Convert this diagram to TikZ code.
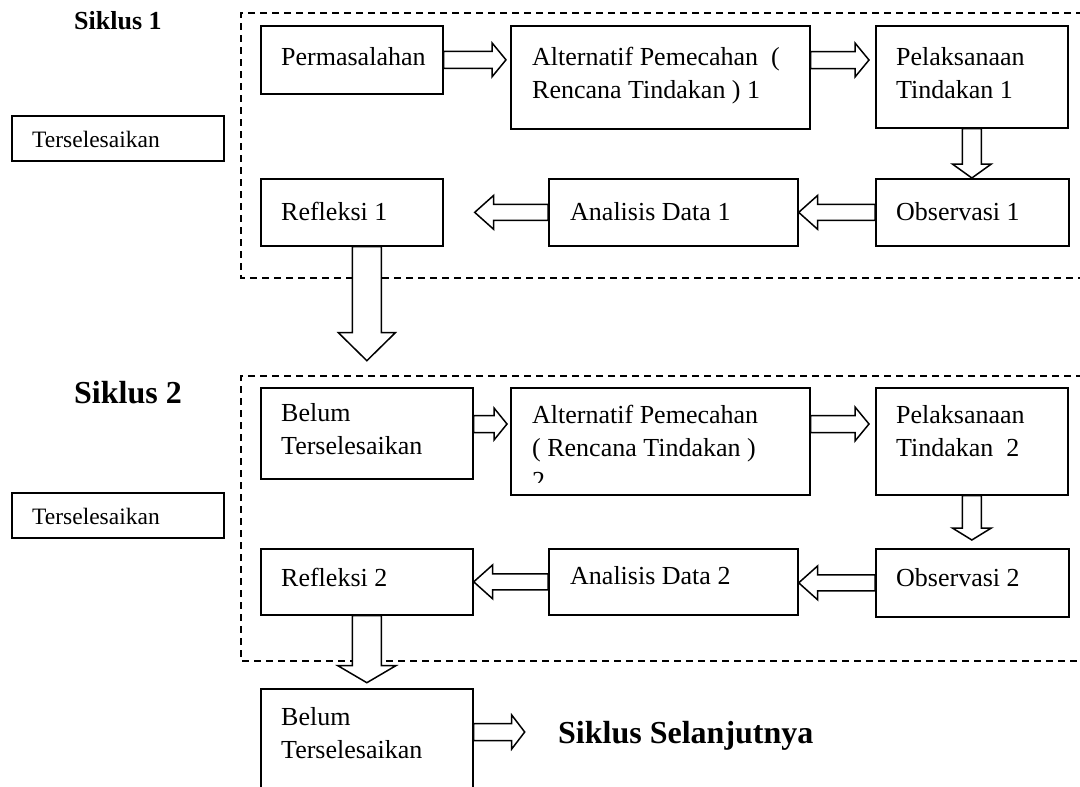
\documentclass[tikz,border=0pt]{standalone}
\usepackage{fontspec}
\setmainfont{Liberation Serif}
\usetikzlibrary{calc}
\newcommand\mainsz{\fontsize{26}{33}\selectfont}
\newcommand\smallsz{\fontsize{23.5}{28}\selectfont}
\newcommand\ml[1]{\parbox[t]{320pt}{\raggedright #1}}
% right-pointing block arrow: start, target (x of tip), shaft half, head half, head length
\newcommand\arrR[5]{%
  \coordinate (s) at (#1); \coordinate (t) at (#1 -| #2);
  \draw[blk] ($(s)+(0,-#3)$) -- ($(t)+(-#5,-#3)$) -- ($(t)+(-#5,-#4)$) -- (t)
    -- ($(t)+(-#5,#4)$) -- ($(t)+(-#5,#3)$) -- ($(s)+(0,#3)$) -- cycle;}
\newcommand\arrL[5]{%
  \coordinate (s) at (#1); \coordinate (t) at (#1 -| #2);
  \draw[blk] ($(s)+(0,-#3)$) -- ($(t)+(#5,-#3)$) -- ($(t)+(#5,-#4)$) -- (t)
    -- ($(t)+(#5,#4)$) -- ($(t)+(#5,#3)$) -- ($(s)+(0,#3)$) -- cycle;}
\newcommand\arrD[5]{%
  \coordinate (s) at (#1); \coordinate (t) at (#1 |- #2);
  \draw[blk] ($(s)+(-#3,0)$) -- ($(t)+(-#3,-#5)$) -- ($(t)+(-#4,-#5)$) -- (t)
    -- ($(t)+(#4,-#5)$) -- ($(t)+(#3,-#5)$) -- ($(s)+(#3,0)$) -- cycle;}
\begin{document}
\begin{tikzpicture}[x=1pt,y=-1pt,
  box/.style={draw,line width=1.7pt,rectangle,inner sep=0pt,anchor=north west},
  txt/.style={inner sep=0pt,anchor=base west,font=\mainsz},
  stxt/.style={inner sep=0pt,anchor=base west,font=\smallsz},
  blk/.style={draw,fill=white,line width=1.5pt,line join=miter},
  cyc/.style={draw,line width=1.4pt,dash pattern=on 7pt off 5pt}]
\useasboundingbox (0,0) rectangle (1080,787);
\clip (0,0) rectangle (1080,787);

% ---------- Siklus 1 ----------
\draw[cyc] (1095,13) -- (241,13) -- (241,278) -- (1095,278);
\node[inner sep=0pt,anchor=base west,font=\fontsize{26}{30}\selectfont\bfseries] (sik1) at (74,29) {Siklus 1};

\node[box,minimum width=212pt,minimum height=45pt] (ters1) at (11,115) {};
\node[stxt] (ters1t) at (32,147) {Terselesaikan};

\node[box,minimum width=182pt,minimum height=68pt] (perm) at (260,25) {};
\node[txt] (permt) at (281,65) {Permasalahan};

\node[box,minimum width=299pt,minimum height=103pt] (alt1) at (510,25) {};
\node[txt] (alt1t) at (532,65) {\ml{Alternatif Pemecahan\ \ (\\Rencana Tindakan ) 1}};

\node[box,minimum width=192pt,minimum height=102pt] (pel1) at (875,25) {};
\node[txt] (pel1t) at (896,65) {\ml{Pelaksanaan\\Tindakan 1}};

\node[box,minimum width=193pt,minimum height=67pt] (obs1) at (875,178) {};
\node[txt] (obs1t) at (896,220) {Observasi 1};

\node[box,minimum width=249pt,minimum height=67pt] (ana1) at (548,178) {};
\node[txt] (ana1t) at (570,220) {Analisis Data 1};

\node[box,minimum width=182pt,minimum height=67pt] (ref1) at (260,178) {};
\node[txt] (ref1t) at (281,220) {Refleksi 1};

\coordinate (a1s) at ($(alt1.north east)+(0,35)$);
\coordinate (p1in) at ($(pel1.west)+(-6,0)$);
\coordinate (a1in) at ($(alt1.west)+(-4,0)$);
\coordinate (r1in) at ($(ref1.east)+(31,0)$);
\coordinate (r1s) at ($(ref1.south)+(15,0)$);
\coordinate (r1tip) at ($(ref1.south)+(15,114)$);

\arrR{perm.east}{a1in}{8.5}{17}{14}
\arrR{a1s}{p1in}{8.5}{17}{14}
\arrD{pel1.south}{obs1.north}{9.5}{19.5}{14}
\arrL{obs1.west}{ana1.east}{8}{17}{19}
\arrL{ana1.west}{r1in}{8}{17}{19}

% ---------- Siklus 2 ----------
\draw[cyc] (1095,376) -- (241,376) -- (241,661) -- (1095,661);
\node[inner sep=0pt,anchor=base west,font=\fontsize{32}{36}\selectfont\bfseries] (sik2) at (74,403) {Siklus 2};

\node[box,minimum width=212pt,minimum height=45pt] (ters2) at (11,492) {};
\node[stxt] (ters2t) at (32,524) {Terselesaikan};

\node[box,minimum width=212pt,minimum height=91pt] (bel2) at (260,387) {};
\node[txt] (bel2t) at (281,421) {\ml{Belum\\Terselesaikan}};

\node[box,minimum width=299pt,minimum height=107pt] (alt2) at (510,387) {};
\begin{scope}
  \clip (512,389) rectangle (807,482);
  \node[txt] (alt2t) at (532,423) {\ml{Alternatif Pemecahan\\( Rencana Tindakan )\\2}};
\end{scope}

\node[box,minimum width=192pt,minimum height=107pt] (pel2) at (875,387) {};
\node[txt] (pel2t) at (896,423) {\ml{Pelaksanaan\\Tindakan\ \ 2}};

\node[box,minimum width=193pt,minimum height=68pt] (obs2) at (875,548) {};
\node[txt] (obs2t) at (896,586) {Observasi 2};

\node[box,minimum width=249pt,minimum height=66pt] (ana2) at (548,548) {};
\node[txt] (ana2t) at (570,584) {Analisis Data 2};

\node[box,minimum width=212pt,minimum height=66pt] (ref2) at (260,548) {};
\node[txt] (ref2t) at (281,586) {Refleksi 2};

\coordinate (b2s) at ($(bel2.north east)+(0,37)$);
\coordinate (a2in) at ($(alt2.west)+(-3,0)$);
\coordinate (a2s) at ($(alt2.north east)+(0,37)$);
\coordinate (p2in) at ($(pel2.west)+(-6,0)$);
\coordinate (o2in) at ($(obs2.north)+(0,-8)$);
\coordinate (r2tip) at ($(ref2.south)+(0,67)$);

\arrR{b2s}{a2in}{8.5}{16}{13}
\arrR{a2s}{p2in}{8.5}{17}{14}
\arrD{pel2.south}{o2in}{9.5}{19.5}{12}
\arrL{obs2.west}{ana2.east}{8}{17}{19}
\arrL{ana2.west}{ref2.east}{8}{17}{19}

% big down arrows, drawn over the dashed frames
\arrD{r1s}{r1tip}{14.5}{28.5}{28}
\arrD{ref2.south}{r2tip}{14.5}{29}{17}

% ---------- next ----------
\node[box,minimum width=212pt,minimum height=150pt] (bel3) at (260,688) {};
\node[txt] (bel3t) at (281,725) {\ml{Belum\\Terselesaikan}};
\coordinate (b3s) at ($(bel3.north east)+(0,44)$);
\coordinate (ssin) at ($(bel3.north east)+(51,44)$);
\arrR{b3s}{ssin}{8.5}{17}{13}
\node[inner sep=0pt,anchor=base west,font=\fontsize{32}{36}\selectfont\bfseries] (next) at (558,743) {Siklus Selanjutnya};
\end{tikzpicture}
\end{document}
